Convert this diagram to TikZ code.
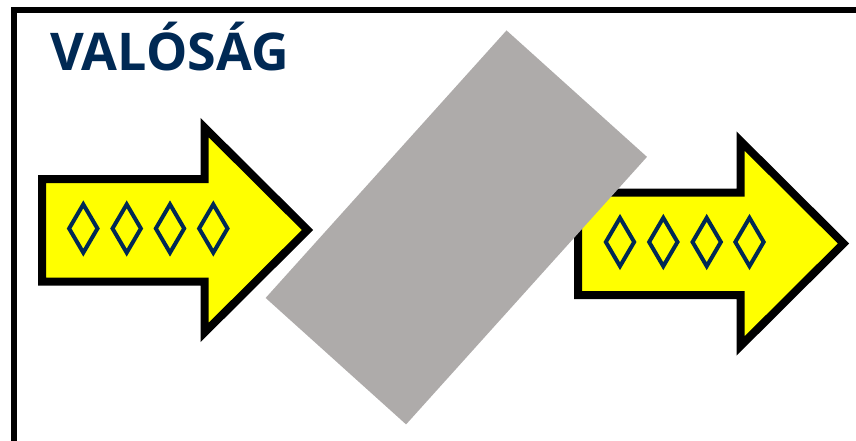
\documentclass[tikz,border=0pt]{standalone}
\usepackage{fontspec}
\setmainfont{Open Sans}
\usepackage{tikz}
\usetikzlibrary{shapes.geometric}
\usepackage{xcolor}
\definecolor{navyText}{RGB}{0,41,84}
\definecolor{blockGray}{RGB}{174,171,170}
\definecolor{arrowYellow}{RGB}{255,255,0}

\begin{document}
\begin{tikzpicture}[
    x=1pt, y=-1pt,
    frameLine/.style={draw=black, line width=6pt},
    bigArrow/.style={fill=arrowYellow, draw=black, line width=8pt, miter limit=20},
    markDiamond/.style={diamond, draw=navyText, line width=4pt, minimum width=30pt, minimum height=50pt, inner sep=0pt},
    gateBlock/.style={rectangle, fill=blockGray, minimum width=360pt, minimum height=189pt, inner sep=0pt},
    titleText/.style={font=\fontsize{52}{60}\selectfont\bfseries, text=navyText, inner sep=0pt, anchor=base west}
]
    \useasboundingbox (0,0) rectangle (856,440);
    \clip (0,0) rectangle (856,440);

    % Frame
    \draw[frameLine] (13.8,9.7) rectangle (880,470);

    % Title
    \node[titleText] (title) at (50,70) {VALÓSÁG};

    % Incoming Arrow
    \draw[bigArrow] (42,179) -- (204.5,179) -- (204.5,127.5) -- (307.5,230)
        -- (204.5,332.5) -- (204.5,281.5) -- (42,281.5) -- cycle;
    \node[markDiamond] (in1) at (83.3,228.5)  {};
    \node[markDiamond] (in2) at (126.7,228.5) {};
    \node[markDiamond] (in3) at (170,228.5)   {};
    \node[markDiamond] (in4) at (213.3,228.5) {};

    % Outgoing Arrow
    \draw[bigArrow] (578,192.5) -- (740.5,192.5) -- (740.5,141) -- (843.5,243.5)
        -- (740.5,346) -- (740.5,295) -- (578,295) -- cycle;
    \node[markDiamond] (out1) at (620,242)   {};
    \node[markDiamond] (out2) at (663.3,242) {};
    \node[markDiamond] (out3) at (706.7,242) {};
    \node[markDiamond] (out4) at (749.5,242) {};

    % Blocking Wall
    \node[gateBlock, rotate=48] (block) at (456.3,227.4) {};
\end{tikzpicture}
\end{document}
